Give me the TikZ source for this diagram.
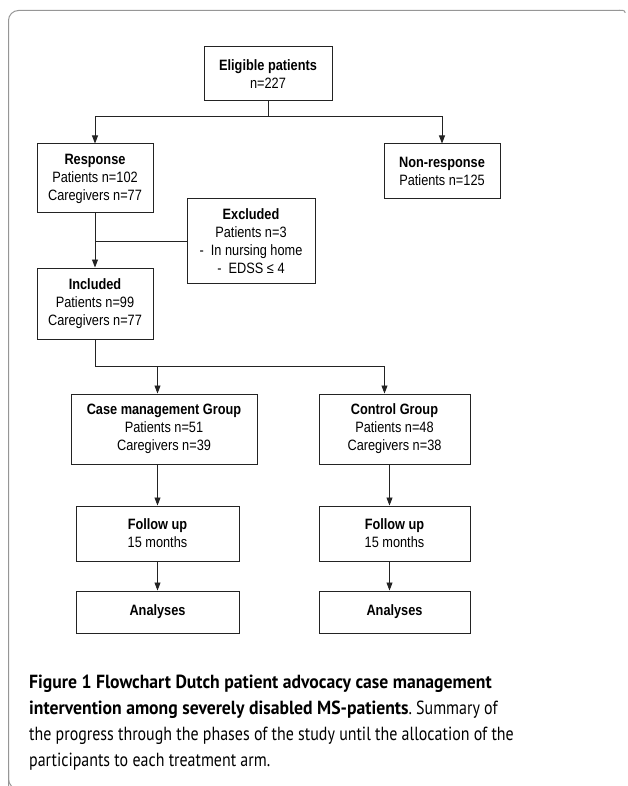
\documentclass[tikz,border=0pt]{standalone}
\usepackage{fontspec}
\setmainfont{Liberation Sans}
\newfontfamily\boxfont{Liberation Sans}[FakeStretch=0.85]
\newfontfamily\capfont{PT Sans}[FakeStretch=0.84, BoldFeatures={FakeStretch=0.93}]
\usetikzlibrary{arrows.meta, positioning, calc}
\definecolor{framegray}{RGB}{150,150,150}
\definecolor{linegray}{RGB}{35,35,35}

\begin{document}
\begin{tikzpicture}[x=1pt, y=-1pt,
			box/.style={draw=linegray, line width=1pt, align=center, inner sep=0pt, font=\boxfont\fontsize{15}{18}\selectfont},
			arr/.style={-{Triangle[length=8pt, width=6pt]}, draw=linegray, line width=0.9pt},
			caption/.style={anchor=north west, align=left, inner sep=0pt, font=\capfont\fontsize{19}{26}\selectfont\frenchspacing}
			]
			\useasboundingbox (0,0) rectangle (628,786);
			% Frame
			\draw[framegray, line width=1pt, rounded corners=10pt] (8.5,789) -- (8.5,10.5) -- (620,10.5);
			\draw[framegray, line width=1pt, rounded corners=2pt] (619,10.5) -- (625,10.5) -- (625,13);
			\draw[framegray, line width=1pt, rounded corners=10pt] (8.5,770) -- (8.5,789) -- (30,789);
			
			% Boxes
			\node[box, minimum width=128pt, minimum height=54pt] (elig) at (268, 74) {\bfseries Eligible patients\\n=227};
			\node[box, minimum width=116pt, minimum height=69pt] (resp) at (95, 178.5) {\bfseries Response\\Patients n=102\\Caregivers n=77};
			\node[box, minimum width=116pt, minimum height=55pt] (nonresp) at (442, 171.5) {\bfseries Non-response\\Patients n=125};
			\node[box, minimum width=128pt, minimum height=84pt] (excl) at (251, 241) {\bfseries Excluded\\Patients n=3\\-\ \ In nursing home\\-\ \ EDSS ≤ 4};
			\node[box, minimum width=116pt, minimum height=71pt] (incl) at (95, 303.5) {\bfseries Included\\Patients n=99\\Caregivers n=77};
			\node[box, minimum width=186pt, minimum height=70pt] (casegrp) at (164, 429) {\bfseries Case management Group\\Patients n=51\\Caregivers n=39};
			\node[box, minimum width=151pt, minimum height=70pt] (ctrlgrp) at (394.5, 429) {\bfseries Control Group\\Patients n=48\\Caregivers n=38};
			\node[box, minimum width=163pt, minimum height=55pt] (fup1) at (157.5, 533.5) {\bfseries Follow up\\15 months};
			\node[box, minimum width=151pt, minimum height=55pt] (fup2) at (394.5, 533.5) {\bfseries Follow up\\15 months};
			\node[box, minimum width=163pt, minimum height=42pt] (ana1) at (157.5, 612) {\bfseries Analyses};
			\node[box, minimum width=151pt, minimum height=42pt] (ana2) at (394.5, 612) {\bfseries Analyses};
			
			% Connections
			\draw[arr] (elig.south) -- ++(0,15) -| (resp.north);
			\draw[arr] (elig.south) -- ++(0,15) -| (nonresp.north);
			\draw[arr] (resp.south) -- (incl.north);
			\draw[draw=linegray, line width=0.9pt] (excl.west) -- (excl.west -| resp.south);
			\draw[arr] (incl.south) -- ++(0,27) -| (fup1.north |- casegrp.north);
			\draw[arr] (incl.south) -- ++(0,27) -| ($(ctrlgrp.north)+(-10,0)$);
			\draw[arr] (fup1.north |- casegrp.south) -- (fup1.north);
			\draw[arr] ($(ctrlgrp.south)+(-5,0)$) -- ($(fup2.north)+(-5,0)$);
			\draw[arr] (fup1.south) -- (ana1.north);
			\draw[arr] ($(fup2.south)+(-5,0)$) -- ($(ana2.north)+(-5,0)$);
			
			% Caption
			\node[caption] (cap) at (29, 675) {\bfseries Figure 1 Flowchart Dutch patient advocacy case management\\
				\bfseries intervention among severely disabled MS-patients\mdseries. Summary of\\
				the progress through the phases of the study until the allocation of the\\
				participants to each treatment arm.};
		\end{tikzpicture}
\end{document}
